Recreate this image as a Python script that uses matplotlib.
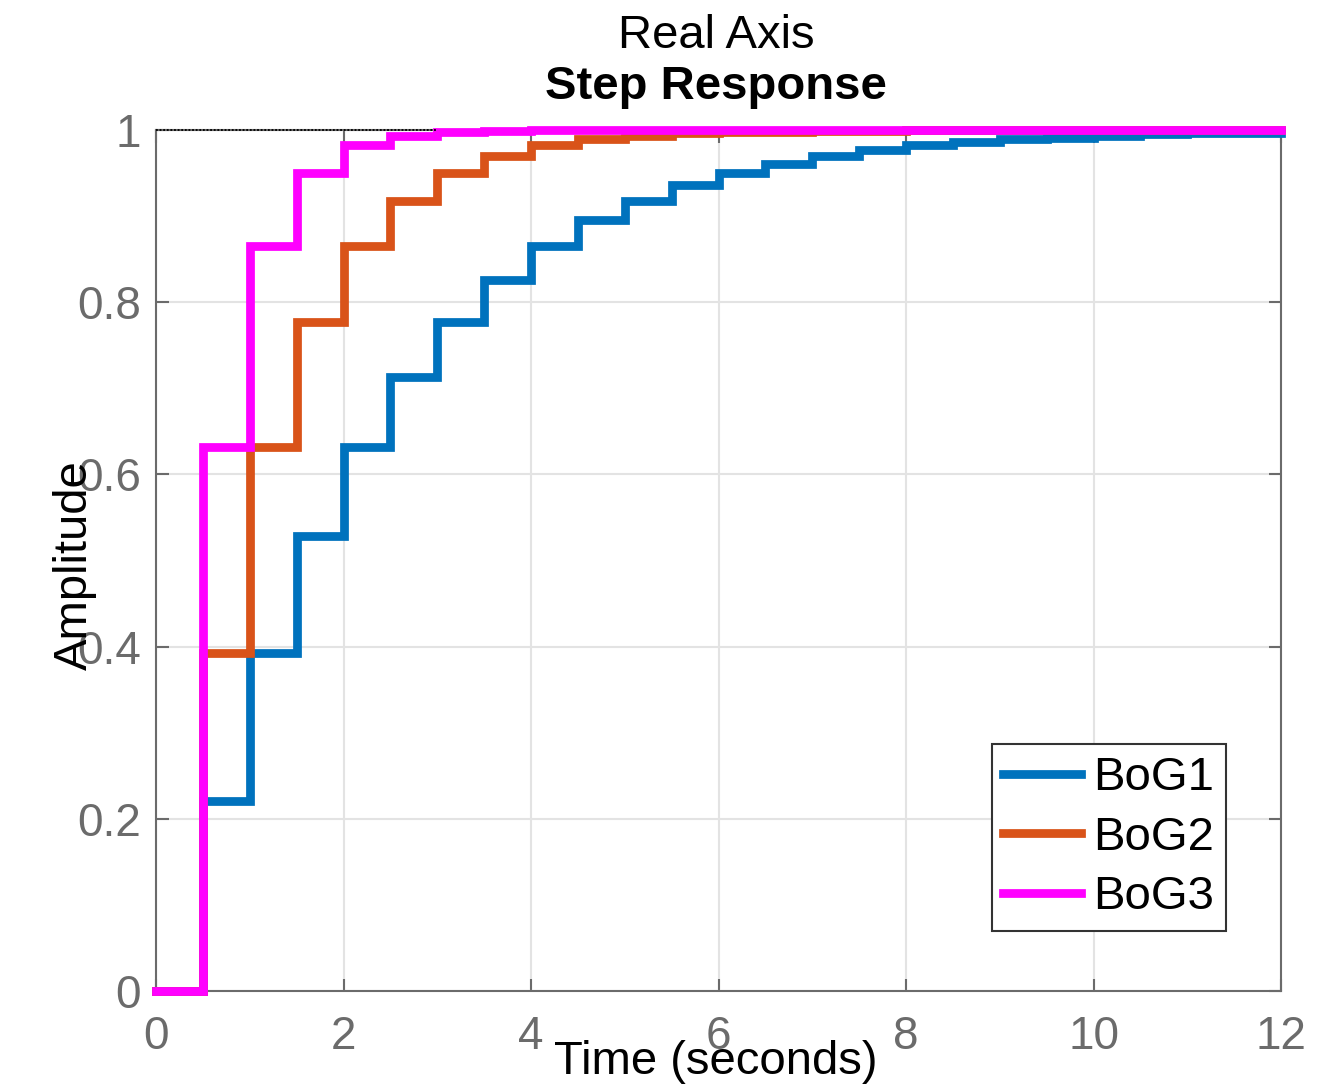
import matplotlib
matplotlib.use("Agg")
import matplotlib.pyplot as plt

plt.rcParams['font.family'] = ['Liberation Sans', 'DejaVu Sans']

# Sample times (Ts = 0.5 s) and the sampled step responses of the three discretised plants
time_s = [0.0, 0.5, 1.0, 1.5, 2.0, 2.5, 3.0, 3.5, 4.0, 4.5, 5.0, 5.5, 6.0,
          6.5, 7.0, 7.5, 8.0, 8.5, 9.0, 9.5, 10.0, 10.5, 11.0, 11.5, 12.0]
bog1 = [0.0, 0.221, 0.393, 0.528, 0.632, 0.713, 0.777, 0.826, 0.865, 0.895, 0.918, 0.936, 0.950,
        0.961, 0.970, 0.977, 0.982, 0.986, 0.989, 0.991, 0.993, 0.995, 0.996, 0.997, 0.998]
bog2 = [0.0, 0.393, 0.632, 0.777, 0.865, 0.918, 0.950, 0.970, 0.982, 0.989, 0.993, 0.996, 0.998,
        0.998, 0.999, 0.999, 1.0, 1.0, 1.0, 1.0, 1.0, 1.0, 1.0, 1.0, 1.0]
bog3 = [0.0, 0.632, 0.865, 0.950, 0.982, 0.993, 0.998, 0.999, 1.0, 1.0, 1.0, 1.0, 1.0,
        1.0, 1.0, 1.0, 1.0, 1.0, 1.0, 1.0, 1.0, 1.0, 1.0, 1.0, 1.0]
series_names = ["BoG1", "BoG2", "BoG3"]
series_colors = ["#0072BD", "#D95319", "#FF00FF"]
steady_state = 1.0
steady_line_end = 3.0

x_ticks = [0, 2, 4, 6, 8, 10, 12]
y_ticks = [0, 0.2, 0.4, 0.6, 0.8, 1]
y_tick_labels = ["0", "0.2", "0.4", "0.6", "0.8", "1"]

W, H = 1343, 1089
fig = plt.figure(figsize=(W / 100, H / 100), dpi=100)
ax = fig.add_axes([156 / W, 1 - 991 / H, (1281 - 156) / W, (991 - 130) / H])

tick_gray = "#6b6b6b"

ax.set_axisbelow(True)
ax.grid(True, color="#e3e3e3", linewidth=1.5)

for ys, name, col in zip([bog1, bog2, bog3], series_names, series_colors):
    ax.step(time_s, ys, where="post", color=col, linewidth=6.3, label=name,
            solid_joinstyle="miter", zorder=3, clip_on=False)

ax.plot([0, steady_line_end], [steady_state, steady_state], color="black",
        linestyle=(0, (1, 1)), linewidth=1.3, zorder=4, clip_on=False)

ax.set_xlim(0, 12)
ax.set_ylim(0, 1)
ax.set_xticks(x_ticks)
ax.set_xticklabels([str(v) for v in x_ticks])
ax.set_yticks(y_ticks)
ax.set_yticklabels(y_tick_labels)
ax.tick_params(direction="in", length=9, width=1.5, colors=tick_gray,
               labelsize=33, top=True, right=True)
ax.tick_params(axis="x", pad=17)
ax.tick_params(axis="y", pad=11)
for sp in ax.spines.values():
    sp.set_color(tick_gray)
    sp.set_linewidth(1.5)

leg = ax.legend(loc="lower right", bbox_to_anchor=(1226 / W, 1 - 931 / H),
                bbox_transform=fig.transFigure, fontsize=34, handlelength=1.65,
                handletextpad=0.25, borderpad=0.25, labelspacing=0.33,
                borderaxespad=0, fancybox=False, framealpha=1, edgecolor="#333333")
leg.get_frame().set_linewidth(1.5)

fig.text(716 / W, 1 - 36 / H, "Real Axis", ha="center", va="center", fontsize=34)
fig.text(716 / W, 1 - 87 / H, "Step Response", ha="center", va="center",
         fontsize=34, fontweight="bold")
fig.text(716 / W, 1 - 1062 / H, "Time (seconds)", ha="center", va="center", fontsize=34)
fig.text(75 / W, 1 - 565 / H, "Amplitude", ha="center", va="center",
         rotation=90, fontsize=34)

fig.savefig("out.png", dpi=100)
